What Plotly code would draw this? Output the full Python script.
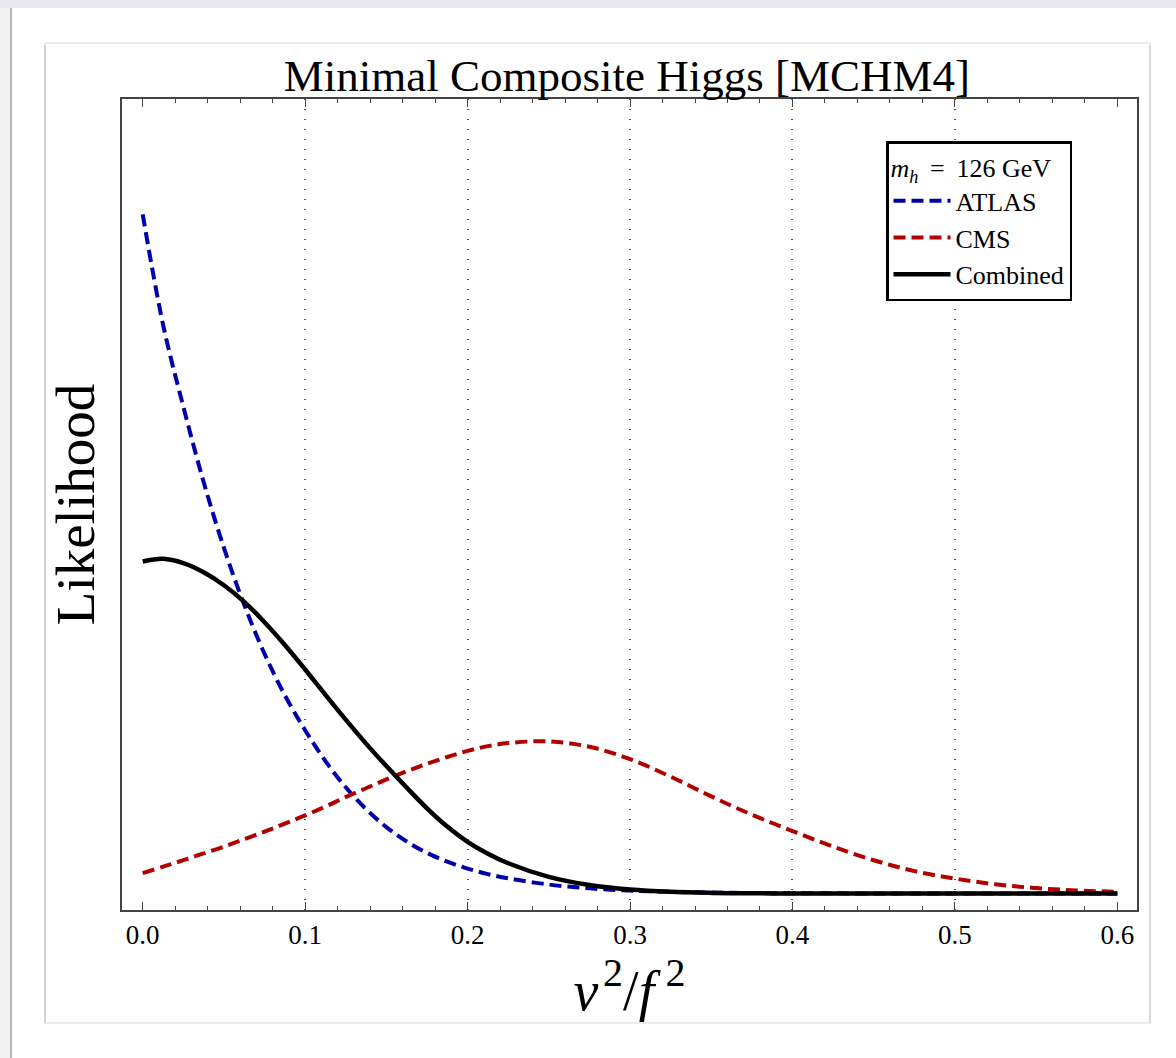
import plotly.graph_objects as go

# x positions (v^2/f^2)
x_vals = [0.0, 0.0125, 0.025, 0.0375, 0.05, 0.0625, 0.075, 0.0875, 0.1, 0.1125, 0.125, 0.1375,
          0.15, 0.1625, 0.175, 0.1875, 0.2, 0.2125, 0.225, 0.25, 0.275, 0.3, 0.325, 0.35, 0.375,
          0.4, 0.425, 0.45, 0.475, 0.5, 0.525, 0.55, 0.575, 0.6]

atlas = [1.000, 0.838, 0.717, 0.606, 0.509, 0.425, 0.353, 0.292, 0.2405, 0.195, 0.1565, 0.1243,
         0.0978, 0.0765, 0.0599, 0.0469, 0.0367, 0.0286, 0.0223, 0.0132, 0.0076, 0.0043, 0.0024,
         0.0013, 0.0007, 0.0004, 0.0002, 0.0001, 0.0, 0.0, 0.0, 0.0, 0.0, 0.0]

cms = [0.030, 0.0395, 0.049, 0.059, 0.069, 0.080, 0.091, 0.103, 0.115, 0.128, 0.142, 0.155,
       0.168, 0.180, 0.191, 0.201, 0.210, 0.217, 0.2215, 0.224, 0.216, 0.198, 0.172, 0.143, 0.116,
       0.092, 0.069, 0.049, 0.033, 0.022, 0.0135, 0.008, 0.0045, 0.0025]

combined = [0.489, 0.4928, 0.4865, 0.4731, 0.4540, 0.4295, 0.3995, 0.3660, 0.3299, 0.2926, 0.2560,
            0.2207, 0.1877, 0.1560, 0.1255, 0.0985, 0.0760, 0.0586, 0.0445, 0.0245, 0.0125, 0.0058,
            0.0024, 0.0009, 0.0003, 0.0001, 0.0, 0.0, 0.0, 0.0, 0.0, 0.0, 0.0, 0.0]

x_ticks = [0.0, 0.1, 0.2, 0.3, 0.4, 0.5, 0.6]
x_tick_text = ["0.0", "0.1", "0.2", "0.3", "0.4", "0.5", "0.6"]
grid_vals = [0.1, 0.2, 0.3, 0.4, 0.5]

SERIF = "Liberation Serif, Times New Roman, serif"

fig = go.Figure()
fig.add_trace(go.Scatter(x=x_vals, y=atlas, mode="lines", name="ATLAS",
                         line=dict(color="#0000aa", width=4, dash="12px,6px", shape="spline", smoothing=1)))
fig.add_trace(go.Scatter(x=x_vals, y=cms, mode="lines", name="CMS",
                         line=dict(color="#b00000", width=4, dash="12px,6px", shape="spline", smoothing=1)))
fig.add_trace(go.Scatter(x=x_vals, y=combined, mode="lines", name="Combined",
                         line=dict(color="#000000", width=4.5, shape="spline", smoothing=1)))
# invisible trace to carry a grid-only overlay x axis
fig.add_trace(go.Scatter(x=[x_vals[0]], y=[combined[0]], xaxis="x2", mode="lines",
                         showlegend=False, hoverinfo="skip", line=dict(width=0)))

W, H = 1176, 1058
L, R, T, B = 122, 1137, 99, 910


def px_x(p):
    return (p - L) / (R - L)


def px_y(p):
    return (B - p) / (B - T)


shapes = [
    # top grey band of the page
    dict(type="rect", xref="paper", yref="paper", x0=px_x(0), x1=px_x(W), y0=px_y(0), y1=px_y(8),
         fillcolor="#e6e7ea", line=dict(width=0), layer="below"),
    # left edge strip
    dict(type="rect", xref="paper", yref="paper", x0=px_x(0), x1=px_x(10), y0=px_y(8), y1=px_y(H),
         fillcolor="#f2f2f2", line=dict(width=0), layer="below"),
    dict(type="line", xref="paper", yref="paper", x0=px_x(11), x1=px_x(11), y0=px_y(8), y1=px_y(H),
         line=dict(color="#b5b5b5", width=2), layer="below"),
    # inner panel border
    dict(type="rect", xref="paper", yref="paper", x0=px_x(45), x1=px_x(1150), y0=px_y(43), y1=px_y(1023),
         line=dict(color="#ececec", width=2), layer="below"),
    dict(type="line", xref="paper", yref="paper", x0=px_x(45), x1=px_x(45), y0=px_y(45), y1=px_y(1023),
         line=dict(color="#d4d4d4", width=2), layer="below"),
    dict(type="line", xref="paper", yref="paper", x0=px_x(1150), x1=px_x(1150), y0=px_y(45), y1=px_y(1023),
         line=dict(color="#d8d8d8", width=2), layer="below"),
]

xrange = [-0.01275, 0.6121]
yrange = [-0.0243, 1.170]

sup2 = "<sup><span style=\"font-size:40px\">2</span></sup>"

fig.update_layout(
    width=W, height=H,
    margin=dict(l=L, r=W - R, t=T, b=H - B, pad=0),
    paper_bgcolor="white", plot_bgcolor="white",
    font=dict(family=SERIF, color="black"),
    title=dict(text="Minimal Composite Higgs [MCHM4]", x=0.4975,
               xref="paper", y=1 - 75 / H, yref="container", yanchor="middle", xanchor="center",
               font=dict(size=45, family=SERIF, color="black")),
    xaxis=dict(range=xrange, tickvals=x_ticks, ticktext=x_tick_text, showgrid=False, zeroline=False,
               ticks="inside", ticklen=8, tickwidth=1.3, tickcolor="#444",
               showline=True, linecolor="#444", linewidth=1.5, mirror="ticks",
               minor=dict(ticks="inside", dtick=0.02, ticklen=4, tickwidth=1, tickcolor="#444", showgrid=False),
               tickfont=dict(size=27, family=SERIF, color="black"),
               title=dict(text="<i>v</i>\u200a" + sup2 + "/<i>f</i>\u2009" + sup2, standoff=16,
                          font=dict(size=56, family=SERIF, color="black"))),
    xaxis2=dict(range=xrange, overlaying="x", tickvals=grid_vals, showgrid=True, griddash="1px,9px",
                gridcolor="#555", gridwidth=1.5, showticklabels=False, ticks="", showline=False,
                zeroline=False, side="bottom"),
    yaxis=dict(range=yrange, showgrid=False, zeroline=False, showticklabels=False, ticks="",
               showline=True, linecolor="#444", linewidth=1.5, mirror=True,
               title=dict(text="Likelihood", standoff=8, font=dict(size=55, family=SERIF, color="black"))),
    legend=dict(x=px_x(886), y=px_y(141), xanchor="left", yanchor="top",
                bordercolor="black", borderwidth=2.5, bgcolor="white",
                font=dict(size=26, family=SERIF, color="black"),
                title=dict(text="<i>m<sub>h</sub></i>\u2009 = \u2009126 GeV", font=dict(size=26, family=SERIF)),
                tracegroupgap=0, itemwidth=57),
    shapes=shapes,
    showlegend=True,
)

fig.write_html("out.html", config={"displayModeBar": False},
               post_script="document.body.style.margin='0';")
